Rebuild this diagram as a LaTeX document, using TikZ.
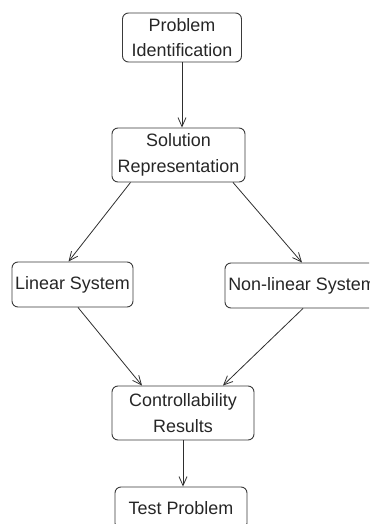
\documentclass[tikz,border=0pt]{standalone}
\usepackage{fontspec}
\setmainfont{Liberation Sans}
\usepackage{tikz}
\usetikzlibrary{arrows.meta, positioning}
\definecolor{boxline}{HTML}{3A3A3A}
\definecolor{arrowline}{HTML}{2E2E2E}
\tikzstyle{block} = [rectangle, rounded corners=6bp, draw=boxline, line width=0.9bp, inner sep=3bp, align=center, text=black!85, font=\fontsize{18}{25.5}\selectfont]
\tikzstyle{arrow} = [-{Straight Barb[length=9bp, width=8bp]}, line width=0.8bp, color=arrowline]

\begin{document}
\begin{tikzpicture}[x=1bp, y=-1bp]
    \path[use as bounding box, clip] (0,0) rectangle (369,524);

    % Top
    \node[block, minimum width=119bp, minimum height=49bp] (prob) at (182,37.5) {Problem\\Identification};
    \node[block, minimum width=133bp, minimum height=54bp] (sol) at (178.5,155) {Solution\\Representation};

    % Systems
    \node[block, minimum width=121bp, minimum height=45bp] (lin) at (72.5,284.5) {Linear System};
    \node[block, minimum width=154bp, minimum height=45bp] (nonlin) at (302,285.5) {Non-linear System};

    % Bottom
    \node[block, minimum width=142bp, minimum height=54bp] (ctrl) at (183,413) {Controllability\\Results};
    \node[block, minimum width=132bp, minimum height=42bp] (test) at (181,508) {Test Problem};

    % Arrows
    \draw[arrow] (prob.south) -- (prob.south |- sol.north);
    \draw[arrow] ([xshift=-48bp]sol.south) -- ([xshift=-4bp]lin.north);
    \draw[arrow] ([xshift=54.5bp]sol.south) -- (nonlin.north);
    \draw[arrow] ([xshift=5.5bp]lin.south) -- ([xshift=-41bp]ctrl.north);
    \draw[arrow] ([xshift=1bp]nonlin.south) -- ([xshift=40bp]ctrl.north);
    \draw[arrow] (ctrl.south) -- (ctrl.south |- test.north);
  \end{tikzpicture}
\end{document}
